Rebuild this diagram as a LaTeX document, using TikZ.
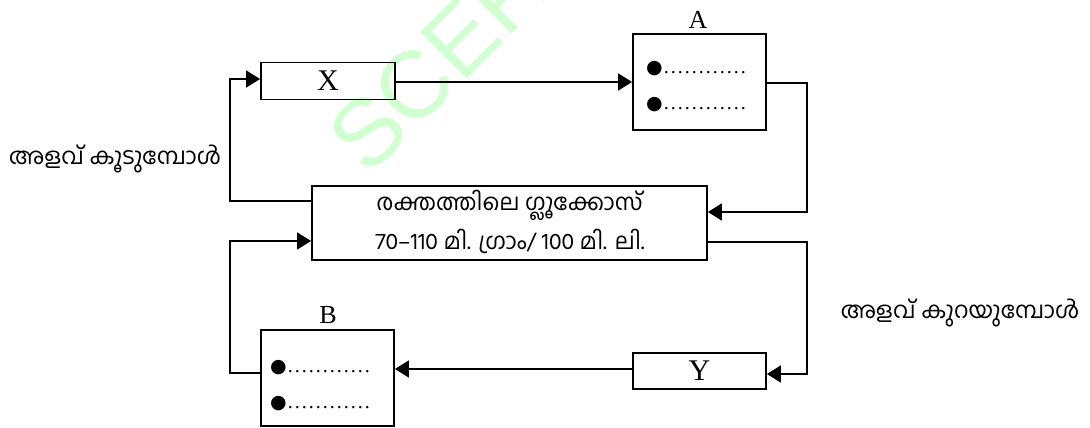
\documentclass[tikz,border=0pt]{standalone}
\usepackage{fontspec}
\setmainfont{Liberation Serif}
\newfontfamily\mal[Script=Malayalam]{Hind Kochi}
\newfontfamily\djv{DejaVu Sans}
\newfontfamily\wmfont{Liberation Sans}
\usetikzlibrary{arrows.meta}
\definecolor{wmgreen}{RGB}{208,255,208}
\newcommand\dd{\makebox[7pt][c]{.}}
\newcommand\bulletrow{{\djv\fontsize{19}{19}\selectfont ●}{\fontsize{20}{20}\selectfont\dd\dd\dd\dd\dd\dd\dd\dd\dd\dd\dd\dd}}
\begin{document}
\begin{tikzpicture}[x=1pt,y=-1pt,
  box/.style={draw, line width=1.8pt, inner sep=0pt, anchor=center},
  lbl/.style={inner sep=0pt, anchor=center, font=\fontsize{26}{26}\selectfont},
  mtext/.style={inner sep=0pt, anchor=center, font=\mal\fontsize{23}{26}\selectfont},
  conn/.style={line width=1.6pt, -{Triangle[length=14pt,width=17pt]}},
  plain/.style={line width=1.6pt}]
\useasboundingbox (0,0) rectangle (1090,428);
\begin{scope}
\clip (0,0) rectangle (1090,428);
\node[rotate=45, anchor=base west, inner sep=0pt, text=wmgreen, font=\wmfont\fontsize{95}{95}\selectfont] (wmark) at (368,178) {SCERT};
\end{scope}
% boxes
\node[box, minimum width=134pt, minimum height=37pt, font=\fontsize{30}{30}\selectfont] (X) at (328,81) {X};
\node[box, minimum width=133pt, minimum height=96pt] (A) at (699.5,82) {};
\node[box, minimum width=395pt, minimum height=74pt] (M) at (509.5,223) {};
\node[box, minimum width=133pt, minimum height=36pt, font=\fontsize{30}{30}\selectfont] (Y) at (699.5,371) {Y};
\node[box, minimum width=133pt, minimum height=96pt] (B) at (327.5,378) {};
% labels
\node[lbl] (Alab) at (698,20) {A};
\node[lbl] (Blab) at (328,315) {B};
\node[anchor=west, inner sep=0pt] (A1) at (646,69) {\bulletrow};
\node[anchor=west, inner sep=0pt] (A2) at (646,105) {\bulletrow};
\node[anchor=west, inner sep=0pt] (B1) at (270,368) {\bulletrow};
\node[anchor=west, inner sep=0pt] (B2) at (270,404) {\bulletrow};
\node[mtext] (M1) at (509.5,205) {രക്തത്തിലെ ഗ്ലൂക്കോസ്};
\node[mtext] (M2) at (510,241) {70–110 മി. ഗ്രാം/ 100 മി. ലി.};
\node[mtext] (Lt) at (115,159) {അളവ് കൂടുമ്പോൾ};
\node[mtext] (Rt) at (960,313) {അളവ് കുറയുമ്പോൾ};
% connectors
\coordinate (c1) at (230,201);
\coordinate (c2) at (230,79);
\draw[conn] (M.west |- c1) -- (c1) -- (c2) -- (X.west |- c2);
\draw[conn] (X.east |- 0,82) -- (A.west |- 0,82);
\coordinate (c3) at (807,83);
\coordinate (c4) at (807,212);
\draw[conn] (A.east |- c3) -- (c3) -- (c4) -- (M.east |- c4);
\coordinate (c5) at (807,242);
\coordinate (c6) at (807,374);
\draw[conn] (M.east |- c5) -- (c5) -- (c6) -- (Y.east |- c6);
\draw[conn] (Y.west |- 0,369) -- (B.east |- 0,369);
\coordinate (c7) at (230,373);
\coordinate (c8) at (230,241);
\draw[conn] (B.west |- c7) -- (c7) -- (c8) -- (M.west |- c8);
\end{tikzpicture}
\end{document}
